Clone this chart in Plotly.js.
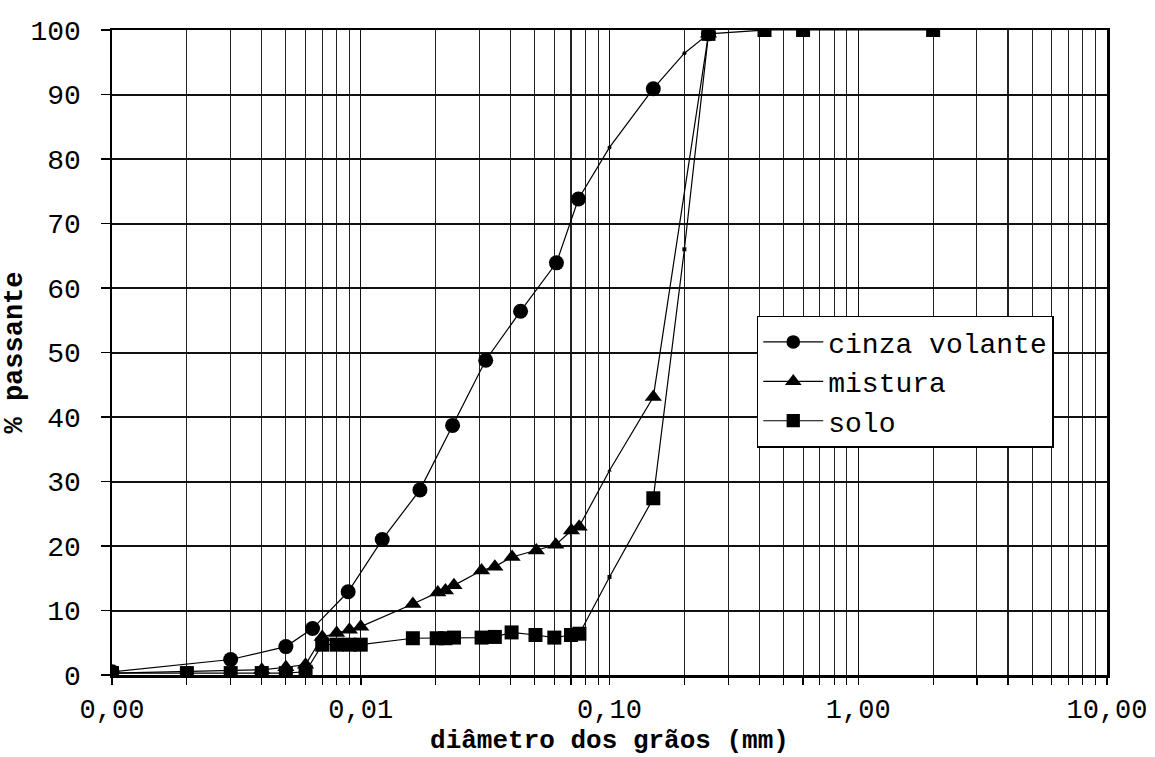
<!DOCTYPE html>
<html>
<head>
<meta charset="utf-8">
<script src="https://cdn.plot.ly/plotly-3.0.1.min.js"></script>
<style>
  html, body { margin: 0; padding: 0; background: #fff; }
  #chart { width: 1155px; height: 757px; }
</style>
</head>
<body>
<div id="chart"></div>
<script>
// ---- data ----
const seriesNames = ["cinza volante", "mistura", "solo"];

const cinzaX = [0.001, 0.003, 0.005, 0.0064, 0.0089, 0.0122, 0.0173, 0.0234, 0.0318, 0.0439, 0.0612, 0.075, 0.1, 0.15, 0.2, 0.25];
const cinzaY = [0.5, 2.4, 4.4, 7.2, 12.9, 21.0, 28.7, 38.7, 48.8, 56.4, 63.9, 73.8, 81.8, 90.9, 96.4, 99.4];

const misturaX = [0.001, 0.004, 0.005, 0.006, 0.007, 0.008, 0.009, 0.010, 0.0162, 0.0204, 0.0219, 0.0237, 0.0306, 0.0346, 0.0406, 0.0508, 0.0608, 0.0703, 0.0755, 0.1, 0.15, 0.25];
const misturaY = [0.3, 0.8, 1.2, 1.6, 5.9, 6.5, 7.0, 7.5, 11.0, 12.8, 13.1, 13.9, 16.2, 16.8, 18.3, 19.3, 20.2, 22.4, 23.0, 31.7, 43.1, 99.4];

const soloX = [0.001, 0.002, 0.003, 0.004, 0.005, 0.006, 0.007, 0.008, 0.009, 0.010, 0.0162, 0.0202, 0.0219, 0.0237, 0.0306, 0.0346, 0.0404, 0.0504, 0.060, 0.070, 0.0757, 0.1, 0.15, 0.2, 0.25, 0.42, 0.6, 2.0];
const soloY = [0.3, 0.3, 0.3, 0.3, 0.3, 0.5, 4.7, 4.7, 4.7, 4.7, 5.7, 5.7, 5.7, 5.8, 5.8, 5.9, 6.6, 6.2, 5.8, 6.2, 6.4, 15.2, 27.4, 66.0, 99.4, 100, 100, 100];

// points drawn in the reference with only a tiny dot instead of the full marker
const tinyMarkerDiameters = [0.1, 0.2];

const xTickVals = [0.001, 0.01, 0.1, 1, 10];
const xTickText = ["0,00", "0,01", "0,10", "1,00", "10,00"];
const xTitle = "diâmetro dos grãos (mm)";
const yTitle = "% passante";

// ---- build ----
const FONT = "Liberation Mono, Courier New, monospace";
function sizes(xs, full) {
  return xs.map(v => tinyMarkerDiameters.includes(v) ? 4 : full);
}
function trace(name, xs, ys, symbol, full) {
  return {
    type: "scatter", mode: "lines+markers", name: name,
    x: xs, y: ys,
    line: { color: "#000", width: 1.2 },
    marker: { symbol: symbol, color: "#000", opacity: 1, size: sizes(xs, full), line: { width: 0 } }
  };
}

const data = [
  trace(seriesNames[0], cinzaX, cinzaY, "circle", 15),
  trace(seriesNames[1], misturaX, misturaY, "triangle-up", 15),
  trace(seriesNames[2], soloX, soloY, "square", 14)
];

// minor grid positions for the log axis (2..9 in each decade)
const minorVals = [];
for (let e = -3; e < 1; e++) {
  for (let m = 2; m <= 9; m++) minorVals.push(m * Math.pow(10, e));
}

const layout = {
  width: 1155, height: 757,
  margin: { l: 112, r: 48, t: 30, b: 82 },
  paper_bgcolor: "#fff", plot_bgcolor: "#fff",
  showlegend: true,
  xaxis: {
    type: "log", range: [-3, 1],
    tickvals: xTickVals, ticktext: xTickText,
    ticks: "outside", ticklen: 7, tickwidth: 1.5, tickcolor: "#000",
    showgrid: true, gridcolor: "#111", gridwidth: 1.3,
    minor: { tickvals: minorVals, ticks: "outside", ticklen: 7, tickwidth: 1.2, tickcolor: "#000",
             showgrid: true, gridcolor: "#222", gridwidth: 1.1 },
    showline: true, linecolor: "#000", linewidth: 2.5, mirror: true,
    zeroline: false,
    tickfont: { family: FONT, size: 27, color: "#000" },
    ticklabelstandoff: 1,
    title: { text: xTitle, font: { family: FONT, size: 26, color: "#000", weight: "bold" }, standoff: 3 }
  },
  yaxis: {
    range: [0, 100], tick0: 0, dtick: 10,
    ticks: "outside", ticklen: 9, tickwidth: 1.5, tickcolor: "#000",
    showgrid: true, gridcolor: "#111", gridwidth: 2,
    showline: true, linecolor: "#000", linewidth: 2.5, mirror: true,
    zeroline: false,
    tickfont: { family: FONT, size: 28, color: "#000" },
    ticklabelstandoff: 14,
    title: { text: yTitle, font: { family: FONT, size: 27, color: "#000", weight: "bold" }, standoff: 0 }
  },
  legend: {
    x: 0.648, y: 0.557, xanchor: "left", yanchor: "top",
    bgcolor: "#fff", bordercolor: "#000", borderwidth: 1.5,
    font: { family: FONT, size: 28, color: "#000" },
    itemwidth: 60, tracegroupgap: 0
  }
};

Plotly.newPlot("chart", data, layout, { displayModeBar: false, staticPlot: true });
</script>
</body>
</html>
